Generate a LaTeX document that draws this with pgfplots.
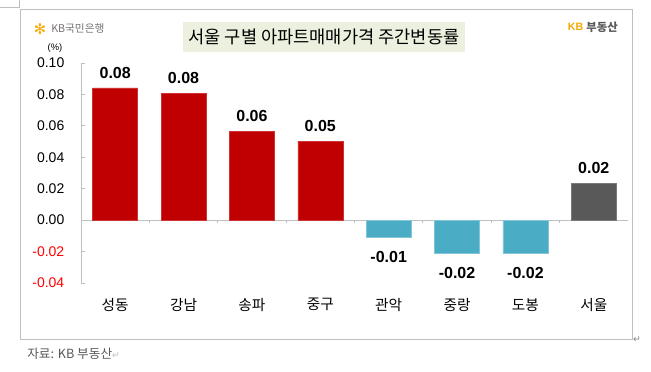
\documentclass[border=0pt]{standalone}
\usepackage{fontspec}
\setmainfont{Liberation Sans}
\newfontfamily\kr{Noto Sans CJK KR}
\newfontfamily\dejavu{DejaVu Sans}
\usepackage{pgfplots}
\pgfplotsset{compat=1.18}
\definecolor{kbred}{HTML}{C00000}
\definecolor{kbblue}{HTML}{4BACC6}
\definecolor{kbgray}{HTML}{595959}
\definecolor{framegray}{HTML}{BFBFBF}
\definecolor{titlebg}{HTML}{EBF1DE}
\definecolor{kborange}{HTML}{F5A800}
\definecolor{logogray}{HTML}{767171}
\begin{document}
\begin{tikzpicture}
\begin{axis}[
  scale only axis,
  width=410.25pt, height=165pt,
  xmin=-0.5, xmax=7.5, ymin=-0.04, ymax=0.10,
  axis x line=bottom, axis y line=left,
  axis line style={-},
  y axis line style={draw=framegray, line width=0.6pt},
  x axis line style={draw=none},
  /pgf/number format/assume math mode=true,
  ytick={-0.04,-0.02,0,0.02,0.04,0.06,0.08,0.10},
  yticklabels={{\color{red}-0.04},{\color{red}-0.02},0.00,0.02,0.04,0.06,0.08,0.10},
  yticklabel style={font=\fontsize{10.5}{12}\selectfont, xshift=-9pt},
  tick align=inside, major tick length=3pt,
  y tick style={draw=framegray, line width=0.6pt},
  xtick={0,1,2,3,4,5,6,7},
  xticklabels={성동,강남,송파,중구,관악,중랑,도봉,서울},
  x tick style={draw=none},
  xticklabel style={font=\kr\fontsize{11}{13}\selectfont, yshift=-5pt},
  ybar, bar width=33.75pt,
  nodes near coords,
  nodes near coords style={font=\bfseries\fontsize{12}{14}\selectfont,
    /pgf/number format/fixed, /pgf/number format/fixed zerofill,
    /pgf/number format/precision=2, /pgf/number format/assume math mode=true},
]
\draw[framegray, line width=0.6pt] (axis cs:-0.5,0) -- (axis cs:7.5,0);
\draw[framegray, line width=0.6pt]
  (axis cs:0.5,0) -- (axis cs:0.5,-0.0019) (axis cs:1.5,0) -- (axis cs:1.5,-0.0019)
  (axis cs:2.5,0) -- (axis cs:2.5,-0.0019) (axis cs:3.5,0) -- (axis cs:3.5,-0.0019)
  (axis cs:4.5,0) -- (axis cs:4.5,-0.0019) (axis cs:5.5,0) -- (axis cs:5.5,-0.0019)
  (axis cs:6.5,0) -- (axis cs:6.5,-0.0019) (axis cs:7.5,0) -- (axis cs:7.5,-0.0019);
\addplot[fill=kbred, draw=kbred!80!white, bar shift=0pt, nodes near coords style={yshift=3.5pt}]
  coordinates {(0,0.0841) (1,0.0809) (2,0.0567) (3,0.0503)};
\addplot[fill=kbblue, draw=kbblue!70!white, bar shift=0pt, nodes near coords style={yshift=-7pt}]
  coordinates {(4,-0.0108) (5,-0.0210) (6,-0.0212)};
\addplot[fill=kbgray, draw=kbgray!80!white, bar shift=0pt, nodes near coords style={yshift=3.5pt}]
  coordinates {(7,0.0236)};
\end{axis}
\begin{scope}[x=0.75pt,y=-0.75pt,shift={(-81,-283)}]
\path[use as bounding box] (0,0) rectangle (651,372);
\draw[framegray, line width=0.6pt] (0,7) -- (19,7) -- (19,0);
\draw[framegray, line width=0.6pt] (20,339) -- (20,9) -- (632,9) -- (632,339) -- cycle;
\fill[titlebg] (183,22) rectangle (465,52);
\node[font=\kr\fontsize{13.2}{15}\selectfont, text=black] at (324,37) {서울 구별 아파트매매가격 주간변동률};
\node[font=\dejavu\fontsize{11}{12}\selectfont, text=kborange] at (40,29) {✻};
\node[anchor=west, font=\kr\fontsize{8}{9}\selectfont, text=logogray, inner sep=0pt] at (51,29) {KB국민은행};
\node[font=\fontsize{7}{8}\selectfont] at (55,48) {(\%)};
\node[anchor=east, inner sep=0pt, font=\kr\bfseries\fontsize{8.5}{10}\selectfont, text=kbgray] (bds) at (618,27) {부동산};
\node[anchor=east, inner sep=0pt, font=\bfseries\fontsize{8}{10}\selectfont, text=kborange] at ([xshift=-2pt]bds.west) {KB};
\node[anchor=west, inner sep=0pt, font=\kr\fontsize{9.5}{11}\selectfont, text=kbgray] at (27,354) {자료: KB 부동산\textcolor{framegray}{\dejavu\fontsize{7}{8}\selectfont ↵}};
\node[inner sep=0pt, font=\dejavu\fontsize{7}{8}\selectfont, text=gray] at (637,340) {↵};
\end{scope}
\end{tikzpicture}
\end{document}
